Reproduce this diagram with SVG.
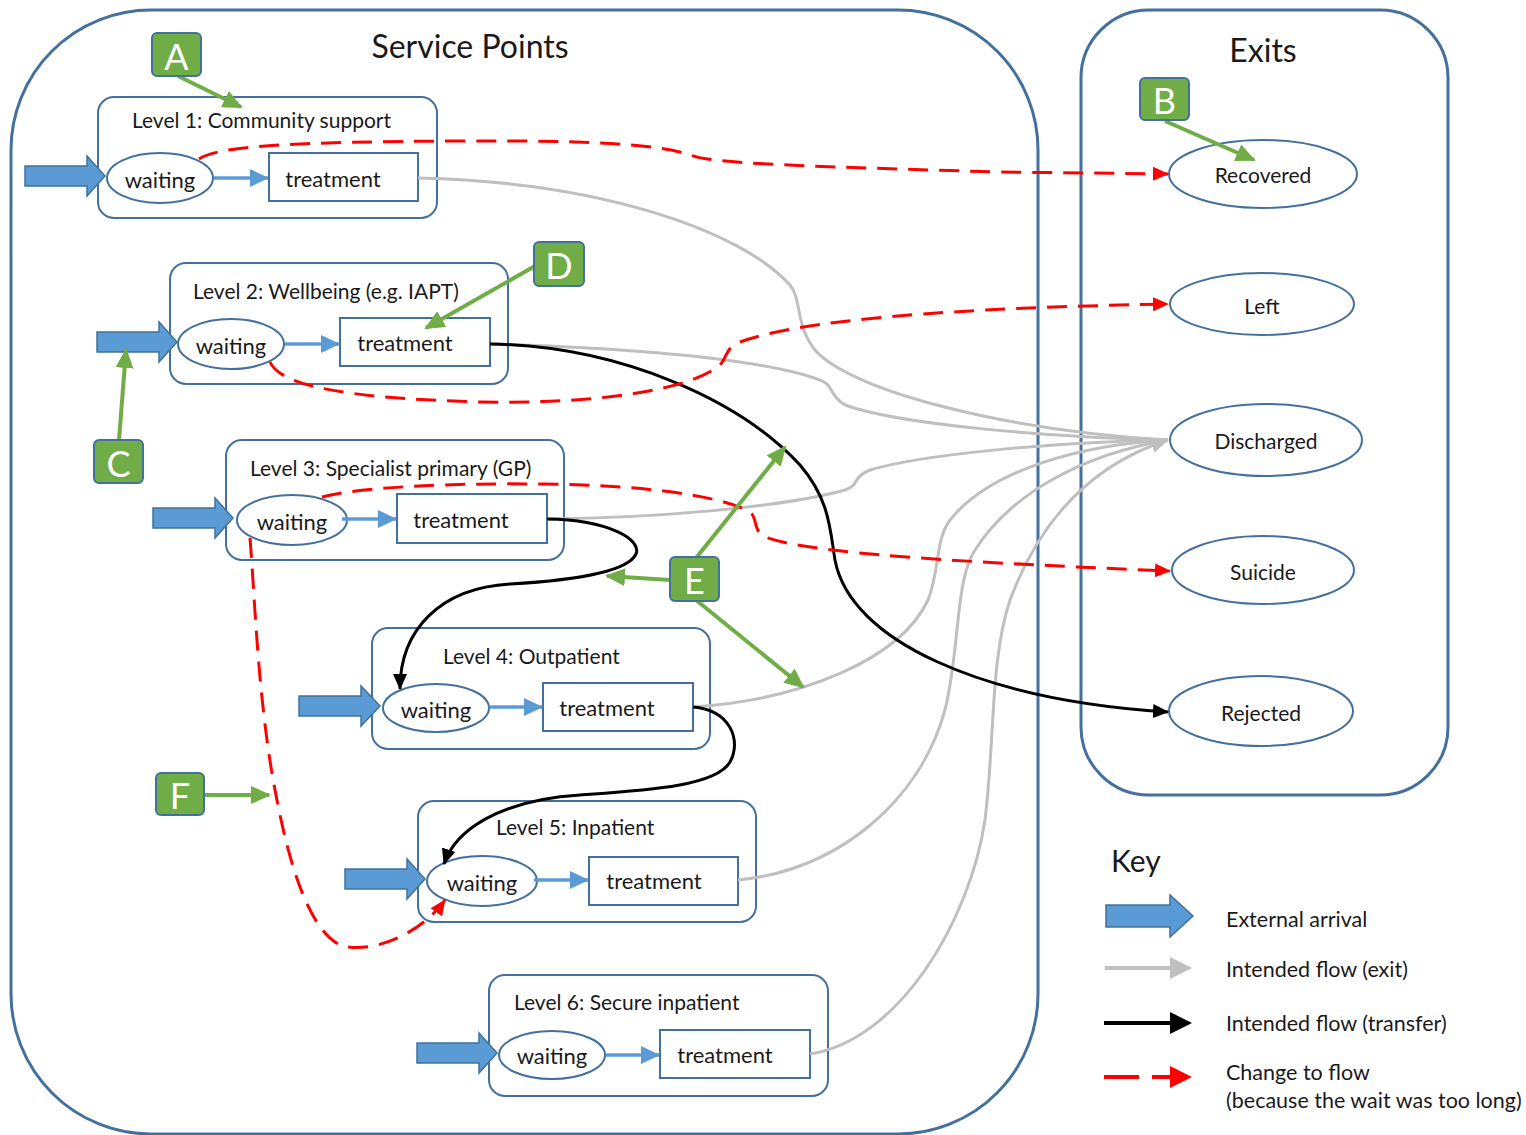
<svg xmlns="http://www.w3.org/2000/svg" width="1526" height="1135" viewBox="0 0 1526 1135">
  <style>
    text { font-family: Lato, "Liberation Sans", sans-serif; fill: #1a1a1a; }
    .container { fill: none; stroke: #44709e; stroke-width: 3; }
    .level { fill: #fff; stroke: #44709e; stroke-width: 2; }
    .wait { fill: #fff; stroke: #44709e; stroke-width: 2; }
    .treat { fill: #fff; stroke: #44709e; stroke-width: 2; }
    .exit { fill: #fff; stroke: #44709e; stroke-width: 2; }
    .title { font-size: 32px; text-anchor: middle; }
    .ltitle { font-size: 21px; }
    .nodetxt { font-size: 22px; text-anchor: middle; dominant-baseline: central; }
    .exittxt { font-size: 21px; text-anchor: middle; dominant-baseline: central; }
    .arrival { fill: #5b9bd5; stroke: #41719c; stroke-width: 1.5; }
    .step { fill: none; stroke: #5b9bd5; stroke-width: 3.5; marker-end: url(#hBlue); }
    .exitflow { fill: none; stroke: #bfbfbf; stroke-width: 3; }
    .transfer { fill: none; stroke: #000; stroke-width: 3; marker-end: url(#hBlack); }
    .change { fill: none; stroke: #ff0000; stroke-width: 3; stroke-dasharray: 20 11; marker-end: url(#hRed); }
    .tagbox { fill: #70ad47; stroke: #41719c; stroke-width: 2; }
    .tagtxt { font-size: 36px; fill: #fff; text-anchor: middle; dominant-baseline: central; }
    .pointer { fill: none; stroke: #70ad47; stroke-width: 4; marker-end: url(#hGreen); }
    .keytxt { font-size: 21.5px; }
  </style>
  <defs>
    <marker id="hBlue" markerUnits="userSpaceOnUse" markerWidth="20" markerHeight="20" refX="18" refY="10" orient="auto">
      <path d="M0,1 L19,10 L0,19 z" fill="#5b9bd5"/>
    </marker>
    <marker id="hGray" markerUnits="userSpaceOnUse" markerWidth="18" markerHeight="16" refX="17" refY="8" orient="auto">
      <path d="M0,0 L18,8 L0,16 z" fill="#bfbfbf"/>
    </marker>
    <marker id="hBlack" markerUnits="userSpaceOnUse" markerWidth="16" markerHeight="16" refX="15" refY="8" orient="auto">
      <path d="M0,1 L16,8 L0,15 z" fill="#000"/>
    </marker>
    <marker id="hRed" markerUnits="userSpaceOnUse" markerWidth="16" markerHeight="16" refX="15" refY="8" orient="auto">
      <path d="M0,1 L16,8 L0,15 z" fill="#ff0000"/>
    </marker>
    <marker id="hGreen" markerUnits="userSpaceOnUse" markerWidth="20" markerHeight="18" refX="18" refY="9" orient="auto">
      <path d="M0,0 L20,9 L0,18 z" fill="#70ad47"/>
    </marker>
  </defs>

  <rect width="1526" height="1135" fill="#fff"/>

  <!-- outer containers -->
  <g id="service-points">
    <rect class="container" x="11" y="10" width="1027" height="1124" rx="140" ry="140"/>
    <text class="title" x="470" y="58">Service Points</text>
  </g>
  <g id="exits">
    <rect class="container" x="1081" y="10" width="367" height="785" rx="68" ry="68"/>
    <text class="title" x="1263" y="62">Exits</text>
  </g>

  <!-- service levels -->
  <g id="level1">
    <rect class="level" x="98" y="97" width="339" height="121" rx="16"/>
    <text class="ltitle" x="132" y="128">Level 1: Community support</text>
    <polygon class="arrival" points="25,166 87,166 87,156 105,176 87,196 87,186 25,186"/>
    <ellipse class="wait" cx="160" cy="178" rx="53" ry="25"/>
    <text class="nodetxt" x="160" y="179">waiting</text>
    <rect class="treat" x="269" y="153" width="149" height="48"/>
    <text class="nodetxt" x="333" y="178">treatment</text>
    <line class="step" x1="214" y1="178" x2="268" y2="178"/>
  </g>
  <g id="level2">
    <rect class="level" x="170" y="263" width="338" height="121" rx="16"/>
    <text class="ltitle" x="193" y="299">Level 2: Wellbeing (e.g. IAPT)</text>
    <polygon class="arrival" points="97,332 159,332 159,322 177,342 159,362 159,352 97,352"/>
    <ellipse class="wait" cx="231" cy="344" rx="53" ry="25"/>
    <text class="nodetxt" x="231" y="345">waiting</text>
    <rect class="treat" x="340" y="318" width="150" height="48"/>
    <text class="nodetxt" x="405" y="342">treatment</text>
    <line class="step" x1="285" y1="344" x2="339" y2="344"/>
  </g>
  <g id="level3">
    <rect class="level" x="226" y="440" width="338" height="120" rx="16"/>
    <text class="ltitle" x="250" y="476">Level 3: Specialist primary (GP)</text>
    <polygon class="arrival" points="153,508 215,508 215,498 233,518 215,538 215,528 153,528"/>
    <ellipse class="wait" cx="292" cy="520" rx="55" ry="25"/>
    <text class="nodetxt" x="292" y="521">waiting</text>
    <rect class="treat" x="397" y="494" width="150" height="49"/>
    <text class="nodetxt" x="461" y="519">treatment</text>
    <line class="step" x1="342" y1="519" x2="396" y2="519"/>
  </g>
  <g id="level4">
    <rect class="level" x="372" y="628" width="338" height="121" rx="16"/>
    <text class="ltitle" x="443" y="664">Level 4: Outpatient</text>
    <polygon class="arrival" points="299,696 361,696 361,686 380,706 361,726 361,716 299,716"/>
    <ellipse class="wait" cx="436" cy="708" rx="53" ry="24"/>
    <text class="nodetxt" x="436" y="709">waiting</text>
    <rect class="treat" x="543" y="683" width="150" height="48"/>
    <text class="nodetxt" x="607" y="707">treatment</text>
    <line class="step" x1="489" y1="707" x2="542" y2="707"/>
  </g>
  <g id="level5">
    <rect class="level" x="418" y="801" width="338" height="121" rx="16"/>
    <text class="ltitle" x="496" y="835">Level 5: Inpatient</text>
    <polygon class="arrival" points="345,869 407,869 407,859 425,879 407,899 407,889 345,889"/>
    <ellipse class="wait" cx="482" cy="881" rx="55" ry="25"/>
    <text class="nodetxt" x="482" y="882">waiting</text>
    <rect class="treat" x="589" y="857" width="149" height="48"/>
    <text class="nodetxt" x="654" y="880">treatment</text>
    <line class="step" x1="534" y1="880" x2="588" y2="880"/>
  </g>
  <g id="level6">
    <rect class="level" x="489" y="975" width="339" height="121" rx="16"/>
    <text class="ltitle" x="514" y="1010">Level 6: Secure inpatient</text>
    <polygon class="arrival" points="417,1043 479,1043 479,1033 497,1053 479,1073 479,1063 417,1063"/>
    <ellipse class="wait" cx="552" cy="1055" rx="53" ry="24"/>
    <text class="nodetxt" x="552" y="1055">waiting</text>
    <rect class="treat" x="660" y="1030" width="150" height="48"/>
    <text class="nodetxt" x="725" y="1054">treatment</text>
    <line class="step" x1="606" y1="1055" x2="659" y2="1055"/>
  </g>

  <!-- exit states -->
  <g id="exit-recovered">
    <ellipse class="exit" cx="1263" cy="174" rx="94" ry="34"/>
    <text class="exittxt" x="1263" y="174">Recovered</text>
  </g>
  <g id="exit-left">
    <ellipse class="exit" cx="1262" cy="304" rx="92" ry="31"/>
    <text class="exittxt" x="1262" y="305">Left</text>
  </g>
  <g id="exit-discharged">
    <ellipse class="exit" cx="1266" cy="440" rx="96" ry="36"/>
    <text class="exittxt" x="1266" y="440">Discharged</text>
  </g>
  <g id="exit-suicide">
    <ellipse class="exit" cx="1263" cy="570" rx="91" ry="34"/>
    <text class="exittxt" x="1263" y="571">Suicide</text>
  </g>
  <g id="exit-rejected">
    <ellipse class="exit" cx="1261" cy="711" rx="92" ry="35"/>
    <text class="exittxt" x="1261" y="712">Rejected</text>
  </g>

  <!-- flows -->
  <g id="connectors">
    <!-- intended exits to Discharged -->
    <path class="exitflow" d="M418,178 C600,182 740,230 790,285 C802,300 795,325 815,350 C850,390 1000,430 1168,440"/>
    <path class="exitflow" d="M490,344 C620,348 760,358 820,380 C835,386 828,395 845,405 C900,425 1050,437 1168,440"/>
    <path class="exitflow" d="M547,519 C650,518 780,508 845,490 C860,485 852,477 870,470 C920,455 1050,442 1168,440"/>
    <path class="exitflow" d="M693,707 C800,700 900,660 928,600 C940,570 935,540 950,520 C990,470 1080,445 1168,440"/>
    <path class="exitflow" d="M738,880 C840,870 920,800 945,710 C960,650 955,580 975,550 C1010,495 1080,455 1168,440"/>
    <path class="exitflow" d="M810,1054 C900,1040 970,920 985,820 C995,740 990,660 1010,600 C1040,520 1090,465 1168,440" marker-end="url(#hGray)"/>

    <!-- transfers -->
    <path class="transfer" d="M490,344 C620,346 740,400 800,465 C830,500 830,530 835,560 C850,640 980,700 1168,712"/>
    <path class="transfer" d="M547,519 C610,520 642,540 636,554 C628,571 580,580 510,584 C440,588 400,630 400,689"/>
    <path class="transfer" d="M693,707 C730,710 742,740 730,762 C716,786 650,790 580,795 C500,800 455,830 444,864"/>

    <!-- changes due to long waits -->
    <path class="change" d="M199,159 C220,145 300,142 460,141 C600,140 660,145 690,155 C710,162 750,165 1000,172 L1168,174"/>
    <path class="change" d="M270,362 C280,385 340,398 480,402 C600,404 690,390 720,365 C728,356 725,348 740,342 C800,320 950,308 1168,304"/>
    <path class="change" d="M322,497 C360,487 450,483 540,484 C640,485 720,495 750,512 C758,518 752,530 765,537 C800,550 900,560 1170,571"/>
    <path class="change" d="M250,538 C255,600 258,700 275,790 C290,870 310,930 340,945 C370,955 420,935 445,900"/>
  </g>

  <!-- annotation tags -->
  <g id="tag-A">
    <line class="pointer" x1="178" y1="76" x2="241" y2="107"/>
    <rect class="tagbox" x="152" y="33" width="49" height="43" rx="5"/>
    <text class="tagtxt" x="176.5" y="56">A</text>
  </g>
  <g id="tag-B">
    <line class="pointer" x1="1165" y1="121" x2="1254" y2="160"/>
    <rect class="tagbox" x="1140" y="78" width="49" height="42" rx="5"/>
    <text class="tagtxt" x="1164.5" y="100">B</text>
  </g>
  <g id="tag-C">
    <line class="pointer" x1="119" y1="440" x2="126" y2="350"/>
    <rect class="tagbox" x="94" y="440" width="49" height="43" rx="5"/>
    <text class="tagtxt" x="118.5" y="463">C</text>
  </g>
  <g id="tag-D">
    <line class="pointer" x1="535" y1="266" x2="426" y2="328"/>
    <rect class="tagbox" x="534" y="242" width="50" height="44" rx="5"/>
    <text class="tagtxt" x="559" y="265">D</text>
  </g>
  <g id="tag-E">
    <line class="pointer" x1="696" y1="558" x2="785" y2="447"/>
    <line class="pointer" x1="670" y1="580" x2="607" y2="576"/>
    <line class="pointer" x1="696" y1="600" x2="803" y2="687"/>
    <rect class="tagbox" x="670" y="557" width="49" height="44" rx="5"/>
    <text class="tagtxt" x="694.5" y="580">E</text>
  </g>
  <g id="tag-F">
    <line class="pointer" x1="204" y1="795" x2="269" y2="795"/>
    <rect class="tagbox" x="156" y="773" width="48" height="42" rx="5"/>
    <text class="tagtxt" x="180" y="795">F</text>
  </g>

  <!-- legend -->
  <g id="key">
    <text x="1111" y="872" style="font-size:30px">Key</text>
    <polygon class="arrival" points="1106,905 1170,905 1170,895 1193,916 1170,937 1170,927 1106,927"/>
    <text class="keytxt" x="1226" y="927">External arrival</text>
    <line x1="1105" y1="968" x2="1172" y2="968" stroke="#bfbfbf" stroke-width="4"/>
    <polygon points="1170,957 1192,968 1170,979" fill="#bfbfbf"/>
    <text class="keytxt" x="1226" y="977">Intended flow (exit)</text>
    <line x1="1104" y1="1023" x2="1172" y2="1023" stroke="#000" stroke-width="4"/>
    <polygon points="1170,1012 1192,1023 1170,1034" fill="#000"/>
    <text class="keytxt" x="1226" y="1031">Intended flow (transfer)</text>
    <line x1="1104" y1="1077" x2="1139" y2="1077" stroke="#ff0000" stroke-width="4"/>
    <line x1="1152" y1="1077" x2="1172" y2="1077" stroke="#ff0000" stroke-width="4"/>
    <polygon points="1170,1066 1192,1077 1170,1088" fill="#ff0000"/>
    <text class="keytxt" x="1226" y="1080">Change to flow</text>
    <text class="keytxt" x="1226" y="1108">(because the wait was too long)</text>
  </g>
</svg>
